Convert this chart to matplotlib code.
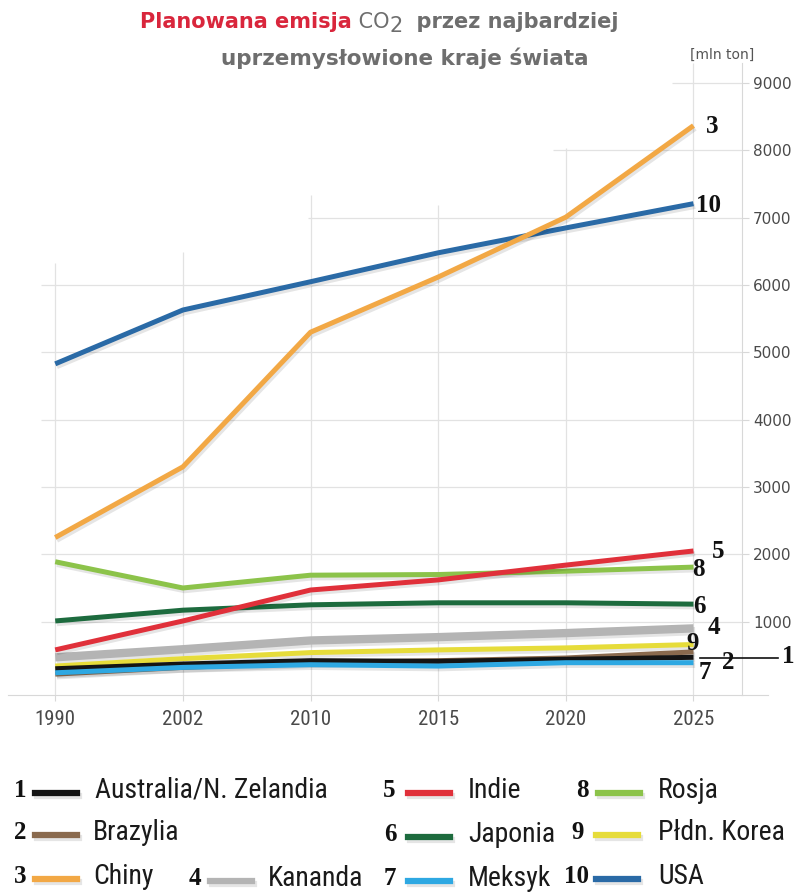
import matplotlib
matplotlib.use("Agg")
import matplotlib.pyplot as plt
import matplotlib.patheffects as pe
from matplotlib import font_manager
from matplotlib.lines import Line2D

# ---- data (mln ton CO2) ----
years = ["1990", "2002", "2010", "2015", "2020", "2025"]
australia = [300, 370, 420, 410, 440, 470]
brazylia = [220, 320, 390, 420, 460, 550]
chiny = [2250, 3300, 5300, 6120, 7010, 8370]
kanada = [470, 590, 720, 770, 830, 900]
indie = [580, 1010, 1470, 1620, 1840, 2050]
japonia = [1010, 1170, 1250, 1280, 1280, 1260]
meksyk = [240, 320, 360, 340, 390, 390]
rosja = [1890, 1500, 1690, 1700, 1750, 1810]
korea = [340, 450, 540, 580, 610, 660]
usa = [4830, 5630, 6050, 6480, 6850, 7210]

names = ["Australia/N. Zelandia", "Brazylia", "Chiny", "Kananda", "Indie",
         "Japonia", "Meksyk", "Rosja", "Płdn. Korea", "USA"]
series = [australia, brazylia, chiny, kanada, indie, japonia, meksyk, rosja, korea, usa]
colors = ["#141414", "#8a6a4e", "#f2a845", "#b4b4b4", "#e0303a",
          "#1d6b3e", "#2ea8e2", "#8cc34a", "#e6dc3a", "#2a6aa6"]
zorders = [5, 4, 12, 2, 9, 7, 6, 8, 3, 11]
widths = [3.6, 3.6, 3.6, 6.0, 3.6, 3.6, 3.6, 3.6, 3.6, 3.6]
yticks = [1000, 2000, 3000, 4000, 5000, 6000, 7000, 8000, 9000]
# the grid is only partly drawn in the original: where each line starts / ends
hgrid_start = [-0.11, -0.11, -0.11, -0.11, -0.11, -0.11, 1.98, 3.9, 4.83]
vgrid_top = [6330, 6490, 7340, 7190, 8040, 9300]

GRID = "#e2e2e2"
GREY_TXT = "#6e6e6e"
have = {f.name for f in font_manager.fontManager.ttflist}
narrow = [n for n in ["Liberation Sans Narrow", "DejaVu Sans Condensed",
                      "Roboto Condensed", "Open Sans Condensed"] if n in have]
NARROW = (narrow[:1] or ["Roboto"]) + ["DejaVu Sans"]
SERIF = ["Liberation Serif", "DejaVu Serif"]

fig = plt.figure(figsize=(8.08, 8.96), dpi=100)
ax = fig.add_axes([8 / 808, 1 - 695 / 896, (742 - 8) / 808, (695 - 63) / 896])
ax.set_xlim(-0.37, 5.38)
ax.set_ylim(-90, 9300)

x = list(range(len(years)))
shadow = [pe.SimpleLineShadow(offset=(1.2, -2.0), shadow_color="#000000", alpha=0.10),
          pe.Normal()]
for s, c, z, w in zip(series, colors, zorders, widths):
    ax.plot(x, s, color=c, lw=w, zorder=z, solid_capstyle="butt",
            path_effects=shadow)

# grid
for yv, xs in zip(yticks, hgrid_start):
    ax.hlines(yv, xs, 5.38, colors=GRID, lw=0.9, zorder=0)
for xv, top in zip(x, vgrid_top):
    ax.vlines(xv, -90, top, colors=GRID, lw=0.9, zorder=0)

for side in ["left", "top"]:
    ax.spines[side].set_visible(False)
ax.spines["right"].set_color("#d8d8d8")
ax.spines["bottom"].set_color("#d8d8d8")
ax.add_line(Line2D([1.0, 1.035], [0, 0], transform=ax.transAxes, color="#d8d8d8",
                   lw=0.8, clip_on=False))

ax.yaxis.tick_right()
ax.set_yticks(yticks)
ax.set_yticklabels([str(v) for v in yticks])
ax.tick_params(axis="y", length=5, color="#d8d8d8", pad=3, labelsize=11,
               labelcolor="#4a4a4a")
ax.set_xticks(x)
ax.set_xticklabels(years, family=NARROW)
ax.tick_params(axis="x", length=4, color="#d8d8d8", pad=7, labelsize=15,
               labelcolor="#4a4a4a")

# series numbers at the line ends
end_labels = [("3", 5.15, 8350), ("10", 5.12, 7190), ("5", 5.19, 2035),
              ("8", 5.04, 1770), ("6", 5.05, 1220), ("4", 5.16, 920),
              ("9", 4.99, 680), ("2", 5.27, 390), ("7", 5.09, 240), ("1", 5.74, 475)]
for t, tx, ty in end_labels:
    ax.text(tx, ty, t, ha="center", va="center", fontsize=18, fontweight="bold",
            family=SERIF, color="#111111", zorder=20, clip_on=False)
ax.add_line(Line2D([5.05, 5.66], [460, 460], color="#111111", lw=1.2,
                   clip_on=False, zorder=20))

fig.text(722 / 808, 1 - 55 / 896, "[mln ton]", ha="center", va="center",
         fontsize=10, color="#555555")

# title
t1 = fig.text(140 / 808, 1 - 22 / 896, "Planowana emisja", ha="left", va="center",
              fontsize=15, fontweight="bold", color="#d9263c")
t2 = ax.annotate(" CO", xy=(1, 0), xycoords=t1, ha="left", va="bottom",
                 fontsize=15, color=GREY_TXT, annotation_clip=False)
t3 = ax.annotate("2", xy=(1, -0.18), xycoords=t2, ha="left", va="bottom",
                 fontsize=15, color=GREY_TXT, annotation_clip=False)
ax.annotate("  przez najbardziej", xy=(1, 0.18), xycoords=t3, ha="left",
            va="bottom", fontsize=15, fontweight="bold", color=GREY_TXT,
            annotation_clip=False)
fig.text(405 / 808, 1 - 58 / 896, "uprzemysłowione kraje świata", ha="center",
         va="center", fontsize=15.5, fontweight="bold", color=GREY_TXT)

# legend drawn as text + line segments: (number x, row y, line x0, text x)
legend_pos = [(20, 790, 35, 95), (20, 832, 35, 93), (20, 876, 35, 93),
              (195, 878, 210, 268), (389, 790, 408, 468), (390, 834, 408, 468),
              (390, 878, 408, 468), (582, 790, 598, 658), (578, 832, 596, 658),
              (577, 876, 596, 658)]
for i, (name, c) in enumerate(zip(names, colors)):
    px, py, lx0, tx = legend_pos[i]
    fig.text(px / 808, 1 - py / 896, str(i + 1), ha="center", va="center",
             fontsize=18, fontweight="bold", family=SERIF, color="#111111")
    fig.add_artist(Line2D([lx0 / 808, (lx0 + 42) / 808],
                          [1 - (py + 3) / 896] * 2, color=c, lw=4.5,
                          path_effects=shadow))
    fig.text(tx / 808, 1 - py / 896, name, ha="left", va="center",
             fontsize=20, family=NARROW, color="#1a1a1a")

fig.savefig("out.png", dpi=100)
